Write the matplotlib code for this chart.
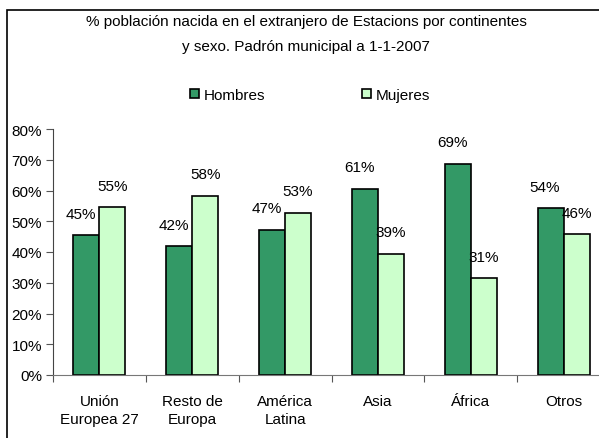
import numpy as np
import matplotlib.pyplot as plt
from matplotlib.patches import Rectangle

# datos: % por continente y sexo
categorias = ["Unión\nEuropea 27", "Resto de\nEuropa", "América\nLatina",
              "Asia", "África", "Otros"]
hombres = [45.4, 41.8, 47.3, 60.6, 68.6, 54.2]
mujeres = [54.6, 58.2, 52.7, 39.4, 31.4, 45.8]
series = ["Hombres", "Mujeres"]

plt.rcParams['font.family'] = ['Liberation Sans', 'DejaVu Sans']
fs = 11

W, H = 599, 439
fig = plt.figure(figsize=(W / 100, H / 100), dpi=100)

# marco exterior (recortado a la derecha y abajo como en el original)
fig.patches.append(Rectangle((7 / W, -0.1), 1.2, 1 - 11 / H + 0.1,
                             transform=fig.transFigure, fill=False,
                             edgecolor='black', lw=1.2))

ax = fig.add_axes([53 / W, 63 / H, 557 / W, 246 / H])
x = np.arange(len(categorias))
w = 0.28
c_h, c_m = '#339966', '#CCFFCC'
b1 = ax.bar(x - w / 2, hombres, w, color=c_h, edgecolor='black', lw=1.2,
            label=series[0])
b2 = ax.bar(x + w / 2, mujeres, w, color=c_m, edgecolor='black', lw=1.2,
            label=series[1])

for rect, v in zip(b1, hombres):
    ax.annotate(f"{v:.0f}%", (rect.get_x() + rect.get_width() / 2, v),
                xytext=(-4, 10.5), textcoords="offset points",
                ha='center', va='bottom', fontsize=fs)
for rect, v in zip(b2, mujeres):
    ax.annotate(f"{v:.0f}%", (rect.get_x() + rect.get_width() / 2, v),
                xytext=(0, 10.5), textcoords="offset points",
                ha='center', va='bottom', fontsize=fs)

ax.set_xlim(-0.5, len(categorias) - 0.5)
ax.set_ylim(0, 80)
ax.set_yticks(np.arange(0, 81, 10))
ax.set_yticklabels([f"{t}%" for t in range(0, 81, 10)], fontsize=fs)
ax.set_xticks(np.arange(-0.5, len(categorias), 1.0))
ax.set_xticklabels([])
ax.set_xticks(x, minor=True)
ax.set_xticklabels(categorias, minor=True, fontsize=fs, linespacing=1.3)
ax.tick_params(axis='x', which='minor', length=0, pad=14)
ax.tick_params(axis='x', which='major', length=5, color='#555555')
ax.tick_params(axis='y', length=5, color='#555555', pad=3)
for s in ['top', 'right']:
    ax.spines[s].set_visible(False)
ax.spines['left'].set_color('#444444')
ax.spines['bottom'].set_color('#777777')

fig.text(306 / W, 1 - 22 / H,
         "% población nacida en el extranjero de Estacions por continentes",
         ha='center', va='center', fontsize=fs)
fig.text(306 / W, 1 - 47 / H, "y sexo. Padrón municipal a 1-1-2007",
         ha='center', va='center', fontsize=fs)

fig.legend(handles=[b1, b2], labels=series, loc='center',
           bbox_to_anchor=(310 / W, 1 - 96 / H), ncol=2, frameon=False,
           fontsize=fs, handlelength=0.6, handleheight=0.6,
           handletextpad=0.3, columnspacing=6.3)

fig.savefig("out.png", dpi=100)
